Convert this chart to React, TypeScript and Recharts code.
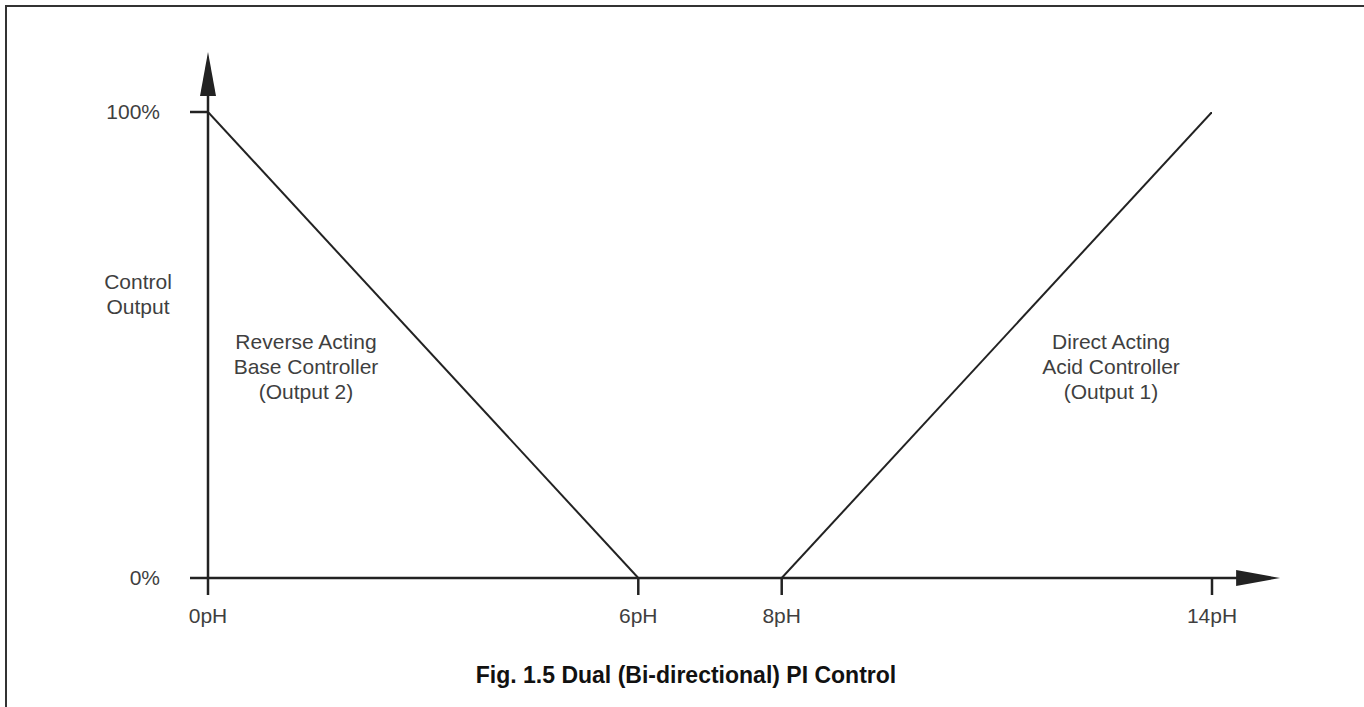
import * as React from "react";
import { LineChart, Line, XAxis, YAxis, ReferenceLine } from "recharts";

// Dual (bi-directional) PI control: output vs pH
const reversePh = [0, 6];
const reverseOut = [100, 0];
const directPh = [8, 14];
const directOut = [0, 100];
const phTicks = [0, 6, 8, 14];
const outputTicks = [0, 100];

// axis arrow extents (in data units, past the plotted domain)
const X_ARROW_END = 14.95;
const Y_ARROW_END = 112.9;

const INK = "#222";
const TEXT = "#3f3f3f";
const FONT = "'Liberation Sans', Arial, Helvetica, sans-serif";

const reverseData = reversePh.map((ph, i) => ({ ph, out: reverseOut[i] }));
const directData = directPh.map((ph, i) => ({ ph, out: directOut[i] }));

/// axis line with a filled arrowhead at its second point
function ArrowLine(props: any) {
  const { x1, y1, x2, y2 } = props;
  const dx = x2 - x1;
  const dy = y2 - y1;
  const len = Math.hypot(dx, dy) || 1;
  const ux = dx / len;
  const uy = dy / len;
  const headLen = 44;
  const half = 8;
  const bx = x2 - ux * headLen;
  const by = y2 - uy * headLen;
  const pts = [
    `${x2},${y2}`,
    `${bx - uy * half},${by + ux * half}`,
    `${bx + uy * half},${by - ux * half}`,
  ].join(" ");
  return (
    <g>
      <line x1={x1} y1={y1} x2={bx + ux * 2} y2={by + uy * 2} stroke={INK} strokeWidth={2.5} />
      <polygon points={pts} fill={INK} />
    </g>
  );
}

const textStyle: React.CSSProperties = {
  position: "absolute",
  fontFamily: FONT,
  fontSize: 21,
  lineHeight: "25px",
  color: TEXT,
  textAlign: "center",
  whiteSpace: "nowrap",
  transform: "translateX(-50%)",
};

export default function App() {
  return (
    <div
      style={{
        position: "absolute",
        left: 0,
        top: 0,
        width: 1364,
        height: 707,
        background: "#fff",
        overflow: "hidden",
        fontFamily: FONT,
      }}
    >
      <div
        style={{
          position: "absolute",
          left: 5,
          top: 5,
          width: 1364,
          height: 707,
          borderTop: "2px solid #333",
          borderLeft: "2px solid #333",
        }}
      />
      <div style={{ position: "absolute", left: 0, top: 0 }}>
        <LineChart
          width={1364}
          height={707}
          margin={{ top: 112, right: 152, bottom: 79, left: 148 }}
          style={{ fontFamily: FONT }}
        >
          <XAxis
            type="number"
            dataKey="ph"
            domain={[0, 14]}
            ticks={phTicks}
            allowDataOverflow
            height={50}
            axisLine={false}
            tickSize={17}
            tickMargin={13}
            tickLine={{ stroke: INK, strokeWidth: 2.5 }}
            tick={{ fontSize: 21, fill: TEXT, fontFamily: FONT }}
            tickFormatter={(v: number) => `${v}pH`}
          />
          <YAxis
            type="number"
            domain={[0, 100]}
            ticks={outputTicks}
            allowDataOverflow
            width={60}
            axisLine={false}
            tickSize={18}
            tickMargin={30}
            tickLine={{ stroke: INK, strokeWidth: 2.5 }}
            tick={{ fontSize: 21, fill: TEXT, fontFamily: FONT }}
            tickFormatter={(v: number) => `${v}%`}
          />
          <ReferenceLine
            segment={[
              { x: 0, y: 0 },
              { x: X_ARROW_END, y: 0 },
            ]}
            ifOverflow="visible"
            shape={ArrowLine}
          />
          <ReferenceLine
            segment={[
              { x: 0, y: 0 },
              { x: 0, y: Y_ARROW_END },
            ]}
            ifOverflow="visible"
            shape={ArrowLine}
          />
          <Line
            data={reverseData}
            dataKey="out"
            type="linear"
            stroke={INK}
            strokeWidth={2}
            dot={false}
            activeDot={false}
            isAnimationActive={false}
          />
          <Line
            data={directData}
            dataKey="out"
            type="linear"
            stroke={INK}
            strokeWidth={2}
            dot={false}
            activeDot={false}
            isAnimationActive={false}
          />
        </LineChart>
      </div>
      <div style={{ ...textStyle, left: 138, top: 269 }}>
        Control
        <br />
        Output
      </div>
      <div style={{ ...textStyle, left: 306, top: 329 }}>
        Reverse Acting
        <br />
        Base Controller
        <br />
        (Output 2)
      </div>
      <div style={{ ...textStyle, left: 1111, top: 329 }}>
        Direct Acting
        <br />
        Acid Controller
        <br />
        (Output 1)
      </div>
      <div
        style={{
          ...textStyle,
          left: 686,
          top: 662,
          fontSize: 23,
          lineHeight: "26px",
          fontWeight: "bold",
          color: "#111",
        }}
      >
        Fig. 1.5 Dual (Bi-directional) PI Control
      </div>
    </div>
  );
}
